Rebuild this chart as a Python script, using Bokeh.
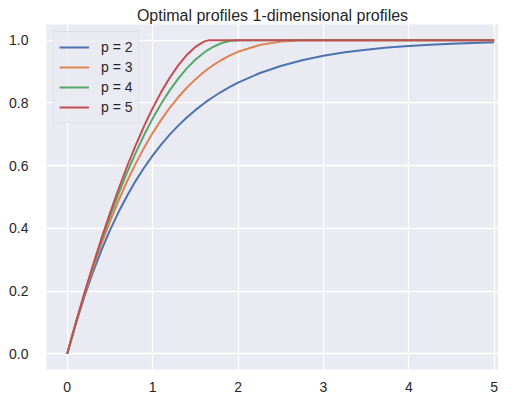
from bokeh.plotting import figure
from bokeh.models import Range1d, Legend, LegendItem, NumeralTickFormatter
from bokeh.embed import file_html
from bokeh.resources import INLINE

# x positions (shared) and values
x_vals = [0.0, 0.1, 0.2, 0.3, 0.4, 0.5, 0.6, 0.7, 0.8, 0.9, 1.0,
          1.1, 1.2, 1.3, 1.4, 1.5, 1.6, 1.65, 1.7, 1.8, 1.9, 2.0,
          2.25, 2.5, 2.75, 3.0, 3.25, 3.5, 3.75, 4.0, 4.25, 4.5, 4.75, 5.0]

p2 = [0.0, 0.0952, 0.1813, 0.2592, 0.3297, 0.3935, 0.4512, 0.5034, 0.5507, 0.5934, 0.6321,
      0.6671, 0.6988, 0.7275, 0.7534, 0.7769, 0.7981, 0.8080, 0.8173, 0.8347, 0.8504, 0.8647,
      0.8946, 0.9179, 0.9361, 0.9502, 0.9612, 0.9698, 0.9765, 0.9817, 0.9857, 0.9889, 0.9913, 0.9933]
p3 = [0.0, 0.0967, 0.1870, 0.2710, 0.3490, 0.4213, 0.4880, 0.5494, 0.6056, 0.6570, 0.7037,
      0.7460, 0.7840, 0.8180, 0.8483, 0.8750, 0.8984, 0.9089, 0.9186, 0.9360, 0.9507, 0.9630,
      0.9844, 0.9954, 0.9994, 1.0, 1.0, 1.0, 1.0, 1.0, 1.0, 1.0, 1.0, 1.0]
p4 = [0.0, 0.0975, 0.1900, 0.2775, 0.3600, 0.4375, 0.5100, 0.5775, 0.6400, 0.6975, 0.7500,
      0.7975, 0.8400, 0.8775, 0.9100, 0.9375, 0.9600, 0.9694, 0.9775, 0.9900, 0.9975, 1.0,
      1.0, 1.0, 1.0, 1.0, 1.0, 1.0, 1.0, 1.0, 1.0, 1.0, 1.0, 1.0]
p5 = [0.0, 0.0980, 0.1919, 0.2816, 0.3671, 0.4481, 0.5247, 0.5966, 0.6638, 0.7259, 0.7828,
      0.8344, 0.8802, 0.9198, 0.9529, 0.9785, 0.9953, 0.9995, 1.0, 1.0, 1.0, 1.0,
      1.0, 1.0, 1.0, 1.0, 1.0, 1.0, 1.0, 1.0, 1.0, 1.0, 1.0, 1.0]

labels = ["p = 2", "p = 3", "p = 4", "p = 5"]
colors = ["#4C72B0", "#DD8452", "#55A868", "#C44E52"]
x_ticks = [0, 1, 2, 3, 4, 5]
y_ticks = [0.0, 0.2, 0.4, 0.6, 0.8, 1.0]

FONT = "Liberation Sans"
TXT = "#262626"

p = figure(width=498, height=394, output_backend="svg", toolbar_location=None,
           x_range=Range1d(-0.2425, 5.05), y_range=Range1d(-0.05, 1.05),
           title="Optimal profiles 1-dimensional profiles",
           min_border_left=46, min_border_right=0, min_border_top=24, min_border_bottom=20)

p.title.text_font = FONT
p.title.text_font_size = "16px"
p.title.text_font_style = "normal"
p.title.text_color = TXT
p.title.align = "center"
p.title.standoff = 2

p.background_fill_color = "#EAEAF2"
p.border_fill_color = "white"
p.outline_line_color = None
p.grid.grid_line_color = "white"
p.grid.grid_line_width = 1.3

for ax in (p.xaxis, p.yaxis):
    ax.axis_line_color = None
    ax.major_tick_line_color = None
    ax.minor_tick_line_color = None
    ax.major_label_text_font = FONT
    ax.major_label_text_font_size = "14px"
    ax.major_label_text_color = TXT
p.xaxis.ticker = x_ticks
p.yaxis.ticker = y_ticks
p.yaxis.formatter = NumeralTickFormatter(format="0.0")
p.xaxis.major_label_standoff = 6
p.yaxis.major_label_standoff = 12

items = []
for ys, lab, c in zip([p2, p3, p4, p5], labels, colors):
    r = p.line(x_vals, ys, line_color=c, line_width=2)
    items.append(LegendItem(label=lab, renderers=[r]))

legend = Legend(items=items, location="top_left")
legend.margin = 7
legend.padding = 5
legend.spacing = 0
legend.glyph_width = 30
legend.glyph_height = 20
legend.label_height = 20
legend.label_standoff = 12
legend.label_text_font = FONT
legend.label_text_font_size = "14px"
legend.label_text_color = TXT
legend.background_fill_color = "#EAEAF2"
legend.background_fill_alpha = 0.8
legend.border_line_color = "#D4D4D8"
legend.border_line_width = 1
p.add_layout(legend)

open("out.html", "w").write(file_html(p, INLINE))
